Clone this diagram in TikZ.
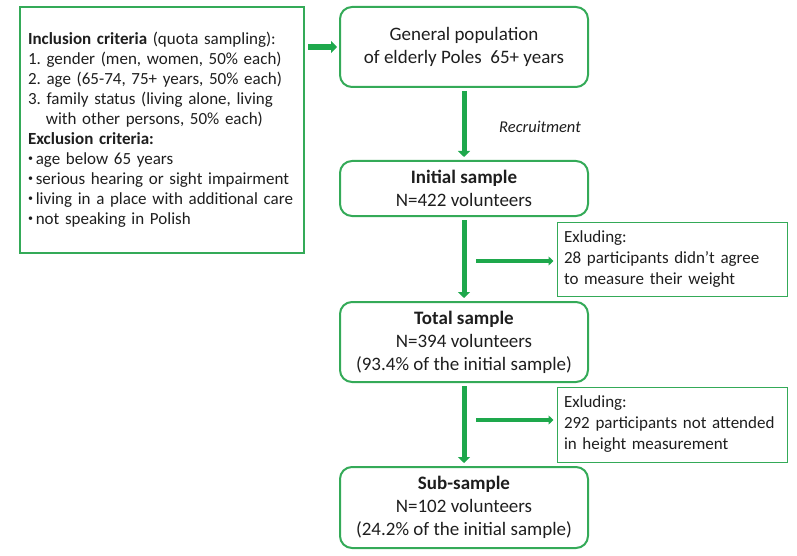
\documentclass[tikz,border=0pt]{standalone}
\usepackage{fontspec}
\setmainfont{Carlito}
\usetikzlibrary{arrows.meta,calc}

\definecolor{boxgreen}{RGB}{52,170,88}
\definecolor{arrowgreen}{RGB}{30,168,76}
\definecolor{inkgray}{RGB}{30,30,30}

\newcommand{\dotitem}{\raisebox{0.45ex}{\fontsize{10}{10}\selectfont•}\,}

\tikzset{
  stage/.style={draw=boxgreen, line width=2pt, rounded corners=12pt,
    minimum width=248pt, inner sep=0pt, align=center, text=inkgray,
    font=\fontsize{19}{23}\selectfont},
  note/.style={draw=boxgreen, line width=1pt, minimum width=230pt,
    text width=216pt, inner sep=0pt, align=left, text=inkgray,
    font=\fontsize{17}{21}\selectfont},
  criteria/.style={draw=boxgreen, line width=1.3pt, minimum width=284pt,
    minimum height=246pt, text width=268pt, inner sep=0pt, align=left,
    text=inkgray, font=\fontsize{17}{20}\selectfont},
  flow/.style={draw=arrowgreen, line width=5pt, -{Triangle[length=6pt,width=12pt]}},
  branch/.style={draw=arrowgreen, line width=4pt, -{Triangle[length=5pt,width=9pt]}}
}

\begin{document}
\begin{tikzpicture}[x=1pt,y=-1pt]
  \useasboundingbox (0,0) rectangle (797,556);
  \node[criteria] (crit) at (162,130) {%
    \textbf{Inclusion criteria} (quota sampling):\\
    1.\ gender (men, women, 50\% each)\\
    2.\ age (65-74, 75+ years, 50\% each)\\
    3.\ family status (living alone, living\\
    \hspace*{1.05em}with other persons, 50\% each)\\
    \textbf{Exclusion criteria:}\\
    \dotitem age below 65 years\\
    \dotitem serious hearing or sight impairment\\
    \dotitem living in a place with additional care\\
    \dotitem not speaking in Polish};
  \node[stage, minimum height=80pt] (pop) at (464,47)
    {General population\\ of elderly Poles\ \ 65+ years};
  \node[stage, minimum height=55pt] (init) at (464,188.5)
    {\textbf{Initial sample}\\ N=422 volunteers};
  \node[stage, minimum height=80pt] (total) at (464,342)
    {\textbf{Total sample}\\ N=394 volunteers\\ (93.4\% of the initial sample)};
  \node[stage, minimum height=81pt] (sub) at (464,507.5)
    {\textbf{Sub-sample}\\ N=102 volunteers\\ (24.2\% of the initial sample)};
  \node[note, minimum height=74pt] (excl1) at (672,259)
    {Exluding:\\ 28 participants didn’t agree\\ to measure their weight};
  \node[note, minimum height=75pt] (excl2) at (672,424.5)
    {Exluding:\\ 292 participants not attended\\ in height measurement};
  \node[font=\fontsize{16.5}{19}\selectfont\itshape, text=inkgray] (recr) at (540,127) {Recruitment};

  \coordinate (critout) at (308,47);
  \coordinate (fork1) at (476,261);
  \coordinate (fork2) at (476,420);

  \draw[flow, line width=6pt, shorten >=2pt] (critout) -- (pop.west);
  \draw[flow, shorten <=3pt, shorten >=3pt] (pop) -- (init);
  \draw[flow, shorten <=3pt, shorten >=3pt] (init) -- (total);
  \draw[flow, shorten <=3pt, shorten >=3pt] (total) -- (sub);
  \draw[branch, shorten >=3pt] (fork1) -- (fork1 -| excl1.west);
  \draw[branch, shorten >=3pt] (fork2) -- (fork2 -| excl2.west);
\end{tikzpicture}
\end{document}
